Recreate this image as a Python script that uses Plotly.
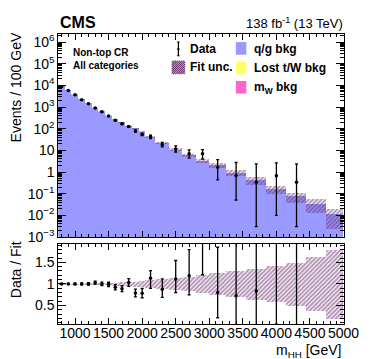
import plotly.graph_objects as go

W, H = 374, 359

# ---------------- data ----------------
bin_edges = [750, 850, 950, 1050, 1150, 1250, 1350, 1450, 1550, 1650, 1750, 1850,
             1950, 2050, 2200, 2400, 2600, 2800, 3000, 3250, 3550, 3850, 4150,
             4450, 4750, 5000]

# Events / 100 GeV
data_vals = [8650, 5890, 3660, 2180, 1440, 910, 600, 385, 247, 168, 127, 79, 55,
             44, 18.4, 11.7, 7.0, 7.0, 1.6, 0.667, 0.333, 0.667, 0.333, None, None]
data_err_lo = [95, 77, 60, 47, 38, 30, 24, 20, 16, 13, 11, 9, 7.5,
               9, 4, 3.3, 2.6, 3.0, 1.17, 0.616, 0.330, 0.657, 0.330, None, None]
data_err_hi = [95, 77, 60, 47, 38, 30, 24, 20, 16, 13, 11, 9, 7.5,
               7, 5, 4.5, 3.6, 3.9, 2.1, 2.08, 2.07, 2.0, 2.07, None, None]

# fitted q/g background (Events / 100 GeV) and its relative uncertainty
fit_vals = [8650, 5890, 3660, 2180, 1440, 885, 600, 390, 268, 189, 123, 100, 70,
            39, 21, 10.5, 5.9, 3.3, 2.0, 0.92, 0.40, 0.156, 0.072, 0.034, 0.011]
fit_rel_unc = [0.01, 0.01, 0.012, 0.014, 0.016, 0.02, 0.025, 0.03, 0.035, 0.04,
               0.05, 0.06, 0.07, 0.09, 0.11, 0.14, 0.17, 0.2, 0.25, 0.3, 0.36,
               0.42, 0.5, 0.62, 0.8]

y_tick_vals = [1e-3, 1e-2, 1e-1, 1, 10, 1e2, 1e3, 1e4, 1e5, 1e6]
y_tick_text = ["10<sup>\u22123</sup>", "10<sup>\u22122</sup>", "10<sup>\u22121</sup>", "1", "10",
               "10<sup>2</sup>", "10<sup>3</sup>", "10<sup>4</sup>", "10<sup>5</sup>", "10<sup>6</sup>"]
ratio_tick_vals = [0.5, 1, 1.5]
ratio_tick_text = ["0.5", "1", "1.5"]

# ---------------- derived ----------------
centers = [(a + b) / 2 for a, b in zip(bin_edges[:-1], bin_edges[1:])]
widths = [b - a for a, b in zip(bin_edges[:-1], bin_edges[1:])]
band_base = [f * (1 - u) for f, u in zip(fit_vals, fit_rel_unc)]
band_h = [2 * f * u for f, u in zip(fit_vals, fit_rel_unc)]

ratio = [None if d is None else d / f for d, f in zip(data_vals, fit_vals)]
ratio_lo = [None if e is None else e / f for e, f in zip(data_err_lo, fit_vals)]
ratio_hi = [None if e is None else e / f for e, f in zip(data_err_hi, fit_vals)]
rband_base = [1 - u for u in fit_rel_unc]
rband_h = [2 * u for u in fit_rel_unc]

minor_log = []
for e in range(-3, 7):
    for k in range(2, 10):
        minor_log.append(k * 10.0 ** e)

FONT = "Liberation Sans, Arial, sans-serif"
QG = "#9999ff"
LOST = "#ffff66"
MW = "#ff66cc"
HATCH = "#66286a"

def px(x):
    return x / W

def py(y):
    return 1 - y / H

X0, X1 = 52.5, 350.5
MAIN_T, MAIN_B = 25, 233.5
RAT_T, RAT_B = 240.5, 323

fig = go.Figure()

pattern = dict(shape="/", fgcolor=HATCH, bgcolor="rgba(0,0,0,0)", size=3, solidity=0.65)

fig.add_trace(go.Bar(x=centers, y=fit_vals, width=widths, marker=dict(color=QG, line=dict(width=0)),
                     xaxis="x", yaxis="y", showlegend=False))
fig.add_trace(go.Bar(x=centers, y=band_h, base=band_base, width=widths,
                     marker=dict(color="rgba(0,0,0,0)", pattern=pattern, line=dict(width=0)),
                     xaxis="x", yaxis="y", showlegend=False))
fig.add_trace(go.Scatter(x=centers, y=data_vals, mode="markers",
                         marker=dict(color="black", size=3.5),
                         error_y=dict(type="data", symmetric=False, array=data_err_hi,
                                      arrayminus=data_err_lo, color="black", thickness=1.3, width=1.5),
                         xaxis="x", yaxis="y", showlegend=False))

fig.add_trace(go.Bar(x=centers, y=rband_h, base=rband_base, width=widths,
                     marker=dict(color="rgba(0,0,0,0)", pattern=pattern, line=dict(width=0)),
                     xaxis="x2", yaxis="y2", showlegend=False))
fig.add_trace(go.Scatter(x=centers, y=ratio, mode="markers",
                         marker=dict(color="black", size=3.5),
                         error_y=dict(type="data", symmetric=False, array=ratio_hi,
                                      arrayminus=ratio_lo, color="black", thickness=1.3, width=1.5),
                         xaxis="x2", yaxis="y2", showlegend=False))

tickfont = dict(family=FONT, size=14, color="black")
common_x = dict(range=[750, 5000], domain=[px(X0), px(X1)], showgrid=False, zeroline=False,
                showline=True, linecolor="black", linewidth=1, mirror="allticks",
                ticks="inside", tickmode="linear", tick0=0, dtick=500, ticklen=6, tickcolor="black",
                minor=dict(ticks="inside", dtick=100, tick0=0, ticklen=3, tickcolor="black", showgrid=False),
                tickfont=tickfont)

fig.update_layout(
    width=W, height=H, margin=dict(l=0, r=0, t=0, b=0),
    paper_bgcolor="white", plot_bgcolor="white",
    barmode="overlay", bargap=0,
    font=dict(family=FONT, color="black"),
    xaxis=dict(common_x, anchor="y", showticklabels=False),
    xaxis2=dict(common_x, anchor="y2", showticklabels=True, matches="x", ticklabelstandoff=-4),
    yaxis=dict(type="log", range=[-3, 6.36], domain=[py(MAIN_B), py(MAIN_T)], anchor="x",
               showgrid=False, zeroline=False, showline=True, linecolor="black", linewidth=1,
               mirror="allticks", ticks="inside", ticklen=8, tickcolor="black",
               tickmode="array", tickvals=y_tick_vals, ticktext=y_tick_text, tickfont=tickfont,
               minor=dict(ticks="inside", tickmode="array", tickvals=minor_log, ticklen=4,
                          tickcolor="black", showgrid=False)),
    yaxis2=dict(range=[0.07, 1.93], domain=[py(RAT_B), py(RAT_T)], anchor="x2",
                showgrid=False, zeroline=False, showline=True, linecolor="black", linewidth=1,
                mirror="allticks", ticks="inside", ticklen=8, tickcolor="black",
                tickmode="array", tickvals=ratio_tick_vals, ticktext=ratio_tick_text, tickfont=tickfont,
                minor=dict(ticks="inside", dtick=0.1, tick0=0, ticklen=4, tickcolor="black", showgrid=False)),
)

ann = []
def text(x, y, s, size, bold=False, xanchor="left", angle=0, yanchor="middle"):
    ann.append(dict(x=px(x), y=py(y), xref="paper", yref="paper", text=("<b>%s</b>" % s) if bold else s,
                    showarrow=False, xanchor=xanchor, yanchor=yanchor, textangle=angle,
                    font=dict(family=FONT, size=size, color="black")))

text(52, 13, "CMS", 16, bold=True)
text(352, 13, "138 fb<sup>-1</sup> (13 TeV)", 13, xanchor="right")
text(66, 44, "Non-top CR", 10, bold=True)
text(66, 57, "All categories", 10, bold=True)
text(188, 40, "Data", 12, bold=True)
text(188, 59, "Fit unc.", 12, bold=True)
text(255, 40, "q/g bkg", 12, bold=True)
text(255, 60, "Lost t/W bkg", 12, bold=True)
text(255, 80, "m<sub>W</sub> bkg", 12, bold=True)
text(8, 80, "Events / 100 GeV", 14, xanchor="center", angle=-90)
text(8, 267, "Data / Fit", 14, xanchor="center", angle=-90)
text(351, 351, "m<sub>HH</sub> [GeV]", 14, xanchor="right")

shapes = []
def line(x0, y0, x1, y1, color="black", w=1.2):
    shapes.append(dict(type="line", xref="paper", yref="paper", x0=px(x0), y0=py(y0), x1=px(x1), y1=py(y1),
                       line=dict(color=color, width=w)))

def box(x0, y0, x1, y1, color):
    shapes.append(dict(type="rect", xref="paper", yref="paper", x0=px(x0), y0=py(y0), x1=px(x1), y1=py(y1),
                       fillcolor=color, line=dict(width=0)))

# legend: Data marker
line(178, 33, 178, 47)
line(176.8, 33, 179.2, 33)
line(176.8, 47, 179.2, 47)
shapes.append(dict(type="circle", xref="paper", yref="paper", x0=px(176.8), y0=py(41.2), x1=px(179.2), y1=py(38.8),
                   fillcolor="black", line=dict(width=0)))
# legend: hatched fit-unc box
hx0, hy0, hx1, hy1 = 171, 52, 185, 66
c = hx0 + hy0
while c <= hx1 + hy1:
    xa = max(hx0, c - hy1)
    xb = min(hx1, c - hy0)
    if xb > xa:
        line(xa, c - xa, xb, c - xb, color=HATCH, w=1.1)
    c += 2.2
box(238, 33, 249, 46, QG)
box(238, 53, 249, 66, LOST)
box(238, 73, 249, 86, MW)

fig.update_layout(annotations=ann, shapes=shapes)

fig.write_html("out.html")
